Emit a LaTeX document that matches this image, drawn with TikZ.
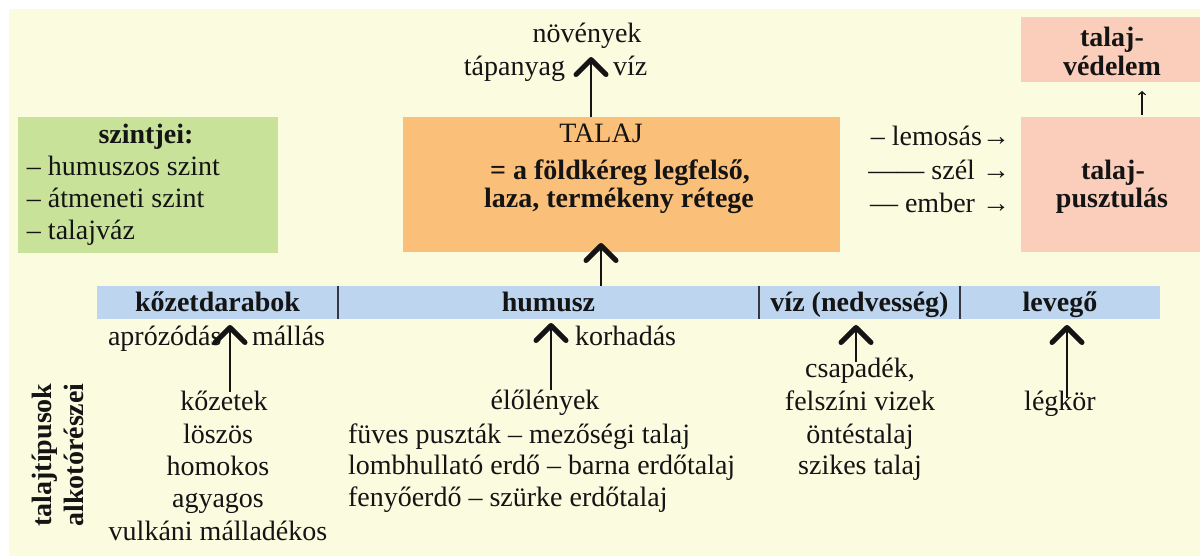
\documentclass[tikz,border=0pt]{standalone}
\usepackage{fontspec}
\setmainfont{LiberationSerif}[Extension=.ttf, UprightFont=*-Regular, BoldFont=*-Bold, ItalicFont=*-Italic, BoldItalicFont=*-BoldItalic]
\usetikzlibrary{arrows.meta}
\definecolor{cream}{RGB}{251,251,224}
\definecolor{levelgreen}{RGB}{201,226,153}
\definecolor{soilorange}{RGB}{250,192,122}
\definecolor{erosionpink}{RGB}{250,206,186}
\definecolor{barblue}{RGB}{189,213,239}
\definecolor{divider}{RGB}{55,55,65}
\definecolor{ink}{RGB}{20,20,20}

\begin{document}
\begin{tikzpicture}[x=1pt,y=-1pt,
  every node/.style={inner sep=0pt, outer sep=0pt, text=ink,
    font=\fontsize{28}{32}\selectfont},
  txt/.style={anchor=base},
  txtl/.style={anchor=base west},
  txtr/.style={anchor=base east},
  bold/.style={font=\fontsize{28}{32}\selectfont\bfseries},
  panel/.style={rectangle, draw=none, anchor=north west},
  barseg/.style={rectangle, fill=barblue, minimum height=33pt,
    text height=22pt, text depth=3pt,
    font=\fontsize{28}{32}\selectfont\bfseries},
  bigarrow/.style={line width=2.8pt, draw=ink,
    -{Straight Barb[length=15pt,width=30pt,line width=5pt,round]}},
  smallarrow/.style={line width=1.2pt, draw=ink,
    -{Straight Barb[length=3pt,width=7pt,line width=1.2pt]}}
]
\useasboundingbox (0,0) rectangle (1200,556);
\fill[white] (0,0) rectangle (1200,556);
\fill[cream] (9,9) rectangle (1200,556);

% coloured panels
\node[panel, fill=levelgreen, minimum width=260pt, minimum height=136pt] (szintbox) at (18,117) {};
\node[panel, fill=soilorange, minimum width=437pt, minimum height=135pt] (talaj) at (403,117) {};
\node[panel, fill=erosionpink, minimum width=179pt, minimum height=135pt] (pusztulas) at (1021,117) {};
\node[panel, fill=erosionpink, minimum width=179pt, minimum height=65pt] (vedelem) at (1021,17) {};

% soil levels
\node[txt, bold] (szintjei) at (146,144) {szintjei:};
\node[txtl] (szint1) at (27,176) {– humuszos szint};
\node[txtl] (szint2) at (27,208) {– átmeneti szint};
\node[txtl] (szint3) at (27,240) {– talajváz};

% definition
\node[txt] (talajcim) at (601,143) {TALAJ};
\node[txt, bold] (def1) at (620,180) {= a földkéreg legfelső,};
\node[txt, bold] (def2) at (619,208) {laza, termékeny rétege};

% plants on top
\node[txt] (novenyek) at (587,43) {növények};
\node[txtr] (tapanyag) at (565,76) {tápanyag};
\node[txtl] (viztop) at (613,76) {víz};

% erosion
\node[txtr] (lemosas) at (1010,146) {– lemosás→};
\node[txtr] (szel) at (1010,180) {—— szél →};
\node[txtr] (ember) at (1010,213) {— ember →};
\node[txt, bold] (pusz1) at (1113,180) {talaj-};
\node[txt, bold] (pusz2) at (1112,208) {pusztulás};
\node[txt, bold] (ved1) at (1112,47) {talaj-};
\node[txt, bold] (ved2) at (1112,76) {védelem};

% component bar
\node[barseg, minimum width=241pt] (kozet) at (217.5,302.5) {kőzetdarabok};
\node[barseg, minimum width=421pt] (humusz) at (548.5,302.5) {humusz};
\node[barseg, minimum width=201pt] (viz) at (859.5,302.5) {víz (nedvesség)};
\node[barseg, minimum width=200pt] (levego) at (1060,302.5) {levegő};
\draw[divider, line width=2pt] (kozet.north east) -- (kozet.south east);
\draw[divider, line width=2pt] (humusz.north east) -- (humusz.south east);
\draw[divider, line width=2pt] (viz.north east) -- (viz.south east);

% side title
\node[bold, rotate=90, align=center] (alkoto) at (58,455) {talajtípusok\\alkotórészei};

% rock column
\node[txtl] (aprozodas) at (108,345) {aprózódás};
\node[txtl] (mallas) at (252,345) {mállás};
\node[txt] (kozetek) at (224,410) {kőzetek};
\node[txt] (loszos) at (218,443) {löszös};
\node[txt] (homokos) at (218,475) {homokos};
\node[txt] (agyagos) at (218,507) {agyagos};
\node[txt] (vulkani) at (218,540) {vulkáni málladékos};

% humus column
\node[txtl] (korhadas) at (575,345) {korhadás};
\node[txt] (elolenyek) at (545,409) {élőlények};
\node[txtl] (fuves) at (348,443) {füves puszták – mezőségi talaj};
\node[txtl] (lomb) at (348,474) {lombhullató erdő – barna erdőtalaj};
\node[txtl] (fenyo) at (348,506) {fenyőerdő – szürke erdőtalaj};

% water column
\node[txt] (csapadek) at (860,377) {csapadék,};
\node[txt] (felszini) at (860,410) {felszíni vizek};
\node[txt] (ontes) at (860,443) {öntéstalaj};
\node[txt] (szikes) at (860,474) {szikes talaj};

% air column
\node[txt] (legkor) at (1060,410) {légkör};

% arrows
\coordinate (ka) at (230,392);
\coordinate (ha) at (551,390);
\coordinate (va) at (856,362);
\coordinate (la) at (1067,398);
\coordinate (ta) at (591,0);
\coordinate (tb) at (601,0);
\coordinate (pa) at (1142,0);
\draw[bigarrow, shorten >=6pt] (ka) -- (ka |- kozet.south);
\draw[bigarrow, shorten >=4pt] (ha) -- (ha |- humusz.south);
\draw[bigarrow, shorten >=6pt] (va) -- (va |- viz.south);
\draw[bigarrow, shorten >=6pt] (la) -- (la |- levego.south);
\draw[bigarrow, shorten >=8pt] (ta |- talaj.north) -- (ta |- novenyek.south);
\draw[bigarrow, shorten >=-9pt] (tb |- humusz.north) -- (tb |- talaj.south);
\draw[smallarrow, shorten <=2pt, shorten >=9pt] (pa |- pusztulas.north) -- (pa |- vedelem.south);
\end{tikzpicture}
\end{document}
